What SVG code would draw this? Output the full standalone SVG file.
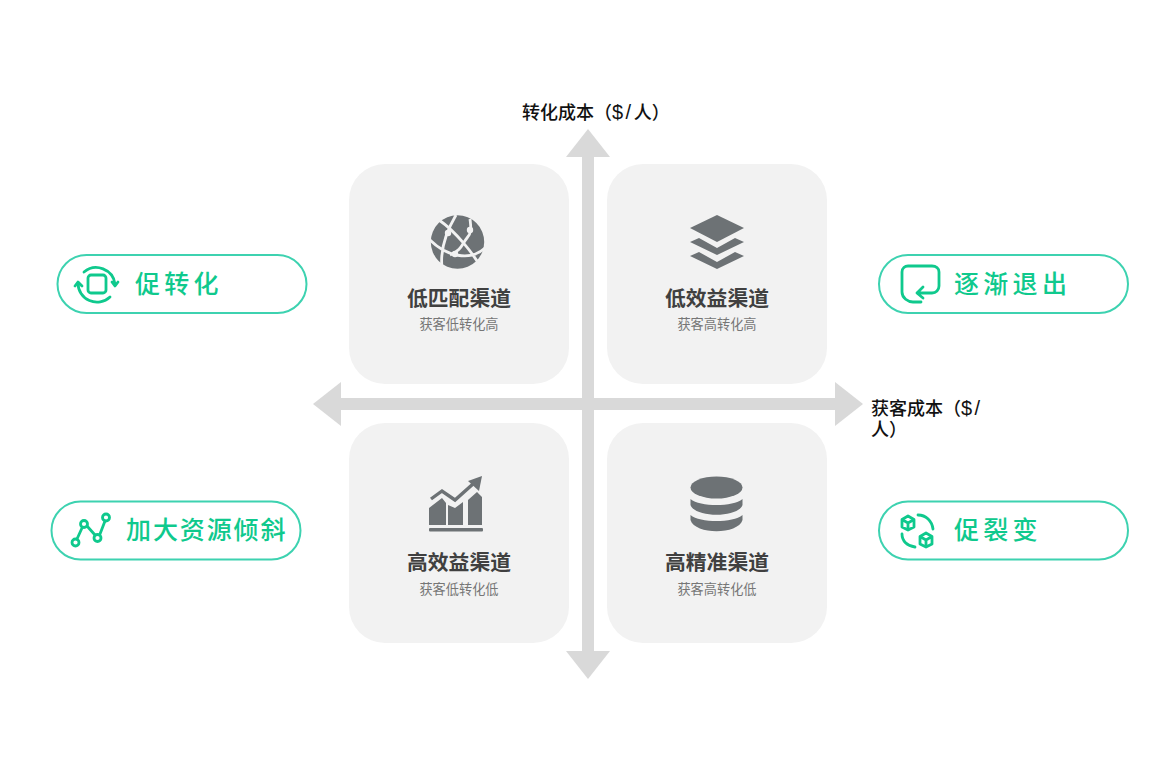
<svg xmlns="http://www.w3.org/2000/svg" width="1176" height="776" viewBox="0 0 1176 776">
<style>
text{font-family:"Noto Sans CJK SC","Liberation Sans",sans-serif}
.card{fill:#f2f2f2}
.t{font-size:20.800px;font-weight:700;fill:#404040;text-anchor:middle}
.s{font-size:13.200px;fill:#767676;text-anchor:middle}
.ax{font-family:"Liberation Sans","Noto Sans CJK SC",sans-serif;font-size:18px;font-weight:500;fill:#111}
.ax tspan{font-size:20px;letter-spacing:2.500px}
.pill{fill:#fff;stroke:#3dd2b0;stroke-width:2}
.g{font-size:25px;font-weight:500;fill:#0fc98d;letter-spacing:4.300px}
.g2{letter-spacing:1.900px}
.ic{fill:none;stroke:#0fc98d;stroke-width:2.800;stroke-linecap:round;stroke-linejoin:round}
.d{fill:#6d7275}
</style>
<rect width="1176" height="776" fill="#fff"/>
<g id="card-tl"><rect class="card" x="349" y="164" width="220" height="220" rx="36"/>
<circle class="d" cx="457.500" cy="242" r="26.700"/>
<path d="M439 220C455 231 474 254 481 268M430 240C446 256 470 262 485 248M456 215C446 232 440 250 442 268M470 219C471 228 472 232 467 238C462 244 462 250 450 255" fill="none" stroke="#f2f2f2" stroke-width="2.800"/>
<circle cx="448" cy="233" r="3.200" fill="#f2f2f2"/><circle cx="470" cy="230" r="3.200" fill="#f2f2f2"/><circle cx="455" cy="254" r="3.200" fill="#f2f2f2"/>
<text class="t" x="459" y="306">低匹配渠道</text><text class="s" x="459" y="328.500">获客低转化高</text></g>
<g id="card-tr"><rect class="card" x="607" y="164" width="220" height="220" rx="36"/>
<path class="d" d="M717 215L744 228L717 242L690 228Z"/>
<path class="d" d="M699 238L717 248L735 238L744 242L717 255L690 242Z"/>
<path class="d" d="M699 252L717 262L735 252L744 256L717 269L690 256Z"/>
<text class="t" x="717" y="306">低效益渠道</text><text class="s" x="717" y="328.500">获客高转化高</text></g>
<g id="card-bl"><rect class="card" x="349" y="423" width="220" height="220" rx="36"/>
<path class="d" d="M429 525V508L442 498L446 503V525ZM448 525V505L455 508L463 502V525ZM468 525V500L477 492L482 497V525Z"/>
<path d="M431 499L442 491L455 500L473 484" fill="none" stroke="#6d7275" stroke-width="3.400"/>
<path class="d" d="M468 481L482 476L479 491Z"/>
<rect class="d" x="429" y="528" width="54" height="3.500" rx="1"/>
<text class="t" x="459" y="570">高效益渠道</text><text class="s" x="459" y="593.500">获客低转化低</text></g>
<g id="card-br"><rect class="card" x="607" y="423" width="220" height="220" rx="36"/>
<ellipse class="d" cx="716.500" cy="487.500" rx="26" ry="11"/>
<path class="d" d="M690.500 499C700 507 733 507 742.500 499V505C738 518 695 518 690.500 505Z"/>
<path class="d" d="M690.500 515C700 523 733 523 742.500 515V520C738 535 695 535 690.500 520Z"/>
<text class="t" x="717" y="570">高精准渠道</text><text class="s" x="717" y="593.500">获客高转化低</text></g>
<g id="connectors" fill="#d9d9d9">
<rect x="582" y="155" width="12" height="498"/>
<path d="M588 129L610 157H566Z"/><path d="M588 679L610 651H566Z"/>
<rect x="339" y="398" width="498" height="12"/>
<path d="M313 404L341 382V426Z"/><path d="M863 404L835 382V426Z"/>
</g>
<text class="ax" x="522" y="119">转化成本（<tspan>$/</tspan>人）</text>
<text class="ax" x="871" y="415">获客成本（<tspan>$/</tspan></text><text class="ax" x="871" y="436">人）</text>
<g id="pill-cv"><rect class="pill" x="57.500" y="255" width="249" height="58" rx="29"/>
<rect class="ic" x="88" y="275" width="18" height="18" rx="3"/>
<path class="ic" d="M84 272A19 19 0 0 1 115 284M78 283A19 19 0 0 0 110 297"/>
<path class="ic" d="M75 286L78 282L82 286M112 282L115 286L118 282"/>
<text class="g" x="135" y="293">促转化</text></g>
<g id="pill-res"><rect class="pill" x="51.500" y="501.500" width="249" height="58" rx="29"/>
<path class="ic" d="M77 539L82 528M87 526L95 535M100 534L105 521"/>
<circle class="ic" cx="75.500" cy="542.500" r="3.500"/><circle class="ic" cx="84" cy="524" r="3.500"/><circle class="ic" cx="97.500" cy="538" r="3.500"/><circle class="ic" cx="106" cy="517.500" r="3.500"/>
<text class="g g2" x="126" y="539">加大资源倾斜</text></g>
<g id="pill-exit"><rect class="pill" x="879" y="255" width="249" height="58" rx="29"/>
<path class="ic" d="M921 302H913C908 302 902 298 902 292V272C902 268 905 266 908 266H932C936 266 939 268 939 272V286C939 290 936 293 932 293H917M923 287L917 293L923 298"/>
<text class="g" x="954" y="293">逐渐退出</text></g>
<g id="pill-fis"><rect class="pill" x="879" y="501.500" width="249" height="58" rx="29"/>
<path class="ic" d="M908 516L914 519.500V527L908 530L902 527V519.500ZM902 519.500L908 523L914 519.500M908 523V530M926 533L932 536.500V544L926 547L920 544V536.500ZM920 536.500L926 540L932 536.500M926 540V547M918 515C926 515 932 521 933 529M902 534C902 541 907 546 915 547"/>
<text class="g" x="954" y="539">促裂变</text></g>
</svg>
